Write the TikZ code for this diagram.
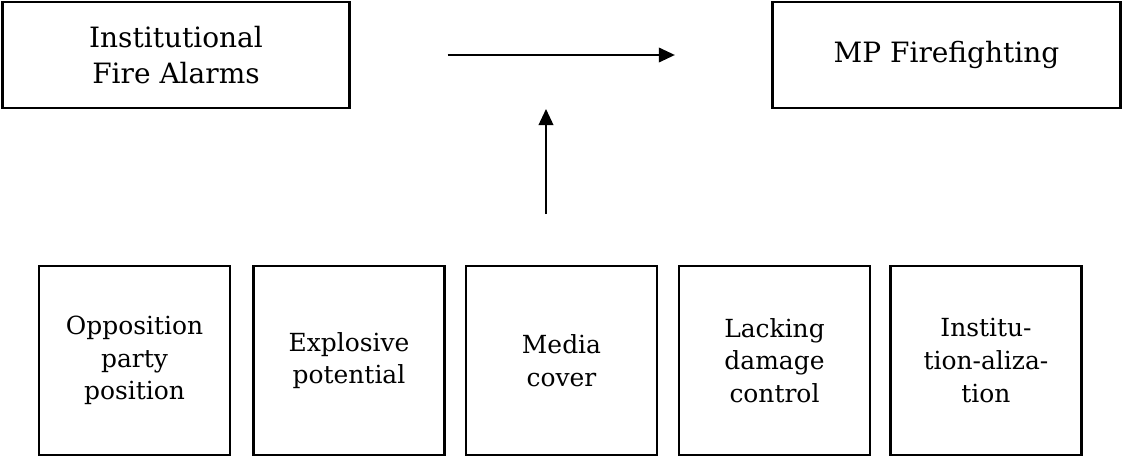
\documentclass[tikz,border=0pt]{standalone}
\usepackage{fontspec}
\setmainfont{DejaVu Serif}
\usetikzlibrary{arrows.meta}

\begin{document}
\begin{tikzpicture}[x=0.75pt,y=0.75pt,yscale=-1,xscale=1,
  topbox/.style={draw, line width=2.1pt, inner sep=0pt, outer sep=0pt, minimum width=260.5pt, minimum height=79.5pt, align=center, font=\fontsize{21}{27.5}\selectfont},
  factor/.style={draw, line width=1.8pt, inner sep=0pt, outer sep=0pt, minimum width=143.25pt, minimum height=141.75pt, align=center, font=\fontsize{18.7}{24.4}\selectfont},
  link/.style={line width=1.2pt, -{Triangle[length=12pt,width=11pt]}}]
\useasboundingbox (0,0) rectangle (1122,457);

% Top boxes
\node (alarms) at (176,55) [topbox] {Institutional\\Fire Alarms};
\node (fire) at (946.5,55) [topbox] {MP Firefighting};

% Factor boxes
\node (opp) at (134.5,360.5) [factor] {Opposition\\party\\position};
\node (expl) at (349,360.5) [factor] {Explosive\\potential};
\node (media) at (561.5,360.5) [factor] {Media\\cover};
\node (dmg) at (774.5,360.5) [factor] {Lacking\\damage\\control};
\node (inst) at (986,360.5) [factor] {Institu-\\tion-aliza-\\tion};

% Arrows
\coordinate (foot) at (546,214);
\coordinate (head) at (546,109);
\draw [link, shorten <=73.5pt, shorten >=73.5pt] (alarms.east) -- (fire.west);
\draw [link] (foot) -- (head);

\end{tikzpicture}
\end{document}
